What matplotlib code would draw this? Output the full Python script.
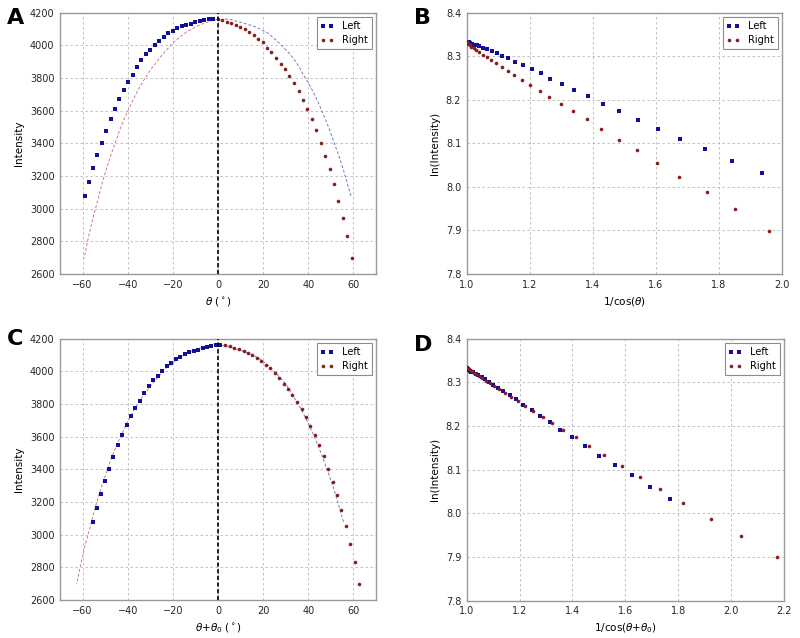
import numpy as np
import matplotlib
matplotlib.use('Agg')
from matplotlib import pyplot as plt

# angles (deg) and measured intensity, left and right of the normal
theta_left = [-58.9, -57.1, -55.3, -53.4, -51.5, -49.6, -47.6, -45.7, -43.7, -41.8,
              -39.9, -37.8, -35.9, -34.0, -31.9, -30.0, -27.9, -26.0, -24.0, -22.1,
              -20.0, -18.1, -16.0, -14.1, -12.1, -10.1, -8.1, -6.2, -4.1, -2.2]
intensity_left = [3078, 3165, 3251, 3329, 3402, 3476, 3547, 3610, 3672, 3724,
                  3775, 3820, 3870, 3908, 3947, 3973, 4004, 4030, 4053, 4075,
                  4090, 4104, 4117, 4125, 4133, 4141, 4149, 4157, 4161, 4161]
theta_right = [0.0, 1.9, 4.0, 5.9, 8.0, 9.9, 11.9, 13.9, 15.8, 17.8,
               19.9, 21.8, 23.7, 25.8, 27.7, 29.7, 31.6, 33.7, 35.7, 37.6,
               39.6, 41.6, 43.6, 45.5, 47.6, 49.5, 51.4, 53.3, 55.4, 57.3, 59.3]
intensity_right = [4161, 4155, 4145, 4137, 4126, 4114, 4098, 4083, 4063, 4040,
                   4018, 3987, 3959, 3924, 3889, 3856, 3813, 3770, 3719, 3667,
                   3610, 3548, 3481, 3404, 3323, 3242, 3151, 3050, 2944, 2832, 2697]
theta0 = 3.3  # angular offset of the sample

BLUE = '#10109a'
RED = '#8c1c1c'
BLUE_FIT = '#6f7fc0'
RED_FIT = '#d07a7a'

plt.rcParams['font.family'] = 'DejaVu Sans'
plt.rcParams['mathtext.fontset'] = 'dejavusans'

tl = np.array(theta_left)
il = np.array(intensity_left, dtype=float)
tr = np.array(theta_right)
ir = np.array(intensity_right, dtype=float)


def style_axes(ax):
    for s in ax.spines.values():
        s.set_color('0.6')
        s.set_linewidth(1.0)
    ax.tick_params(length=0, labelsize=7, pad=4, colors='0.15')
    ax.grid(True, color='0.72', linestyle=(0, (3, 3)), linewidth=0.6)
    ax.set_axisbelow(True)


def points(ax, xl, yl, xr, yr):
    ax.plot(xl, yl, 's', color=BLUE, ms=2.4, mew=0, label='Left', zorder=4)
    ax.plot(xr, yr, 'o', color=RED, ms=2.6, mew=0, label='Right', zorder=4)
    leg = ax.legend(loc='upper right', numpoints=2, fontsize=7, fancybox=False,
                    handlelength=1.4, handletextpad=0.8, borderpad=0.4,
                    labelspacing=0.45, borderaxespad=0.45, framealpha=1)
    leg.get_frame().set_edgecolor('0.55')
    leg.get_frame().set_linewidth(0.8)


fig = plt.figure(figsize=(8, 6.38), dpi=100)
axA = fig.add_axes([0.075, 0.5705, 0.395, 0.4095])
axB = fig.add_axes([0.5834, 0.5705, 0.394, 0.4095])
axC = fig.add_axes([0.075, 0.0596, 0.395, 0.4095])
axD = fig.add_axes([0.5834, 0.0585, 0.3966, 0.4106])

# A: raw profile, mirrored partner as dashed guide
axA.plot(-tr, ir, '--', color=RED_FIT, lw=0.7, dashes=(3, 2))
axA.plot(-tl, il, '--', color=BLUE_FIT, lw=0.7, dashes=(3, 2))
axA.axvline(0, color='k', ls='--', lw=1.2, dashes=(2.5, 1.5), zorder=5)
points(axA, tl, il, tr, ir)
axA.set_xlim(-70, 70)
axA.set_ylim(2600, 4200)
axA.set_xticks(np.arange(-60, 61, 20))
axA.set_yticks(np.arange(2600, 4201, 200))
axA.set_xlabel(r'$\theta$ ($^\circ$)', fontsize=7.5)
axA.set_ylabel('Intensity', fontsize=7.5)
style_axes(axA)

# B: ln(I) vs 1/cos(theta)
points(axB, 1 / np.cos(np.radians(tl)), np.log(il), 1 / np.cos(np.radians(tr)), np.log(ir))
axB.set_xlim(1.0, 2.0)
axB.set_ylim(7.8, 8.4)
axB.set_xticks(np.arange(1.0, 2.01, 0.2))
axB.set_yticks(np.arange(7.8, 8.41, 0.1))
axB.set_xlabel(r'1/cos($\theta$)', fontsize=7.5)
axB.set_ylabel('ln(Intensity)', fontsize=7.5)
style_axes(axB)

# C: corrected angle
axC.plot(-(tr + theta0), ir, '--', color=RED_FIT, lw=0.7, dashes=(3, 2))
axC.plot(-(tl + theta0), il, '--', color=BLUE_FIT, lw=0.7, dashes=(3, 2))
axC.axvline(0, color='k', ls='--', lw=1.2, dashes=(2.5, 1.5), zorder=5)
points(axC, tl + theta0, il, tr + theta0, ir)
axC.set_xlim(-70, 70)
axC.set_ylim(2600, 4200)
axC.set_xticks(np.arange(-60, 61, 20))
axC.set_yticks(np.arange(2600, 4201, 200))
axC.set_xlabel(r'$\theta$+$\theta_0$ ($^\circ$)', fontsize=7.5)
axC.set_ylabel('Intensity', fontsize=7.5)
style_axes(axC)

# D: ln(I) vs 1/cos(theta+theta0)
points(axD, 1 / np.cos(np.radians(tl + theta0)), np.log(il),
       1 / np.cos(np.radians(tr + theta0)), np.log(ir))
axD.set_xlim(1.0, 2.2)
axD.set_ylim(7.8, 8.4)
axD.set_xticks(np.arange(1.0, 2.21, 0.2))
axD.set_yticks(np.arange(7.8, 8.41, 0.1))
axD.set_xlabel(r'1/cos($\theta$+$\theta_0$)', fontsize=7.5)
axD.set_ylabel('ln(Intensity)', fontsize=7.5)
style_axes(axD)

for x, y, s in [(7, 24, 'A'), (414, 24, 'B'), (7, 345, 'C'), (414, 351, 'D')]:
    fig.text(x / 800, 1 - y / 638, s, fontsize=16, fontweight='bold', va='baseline')

fig.savefig('out.png', dpi=100, facecolor='white')
